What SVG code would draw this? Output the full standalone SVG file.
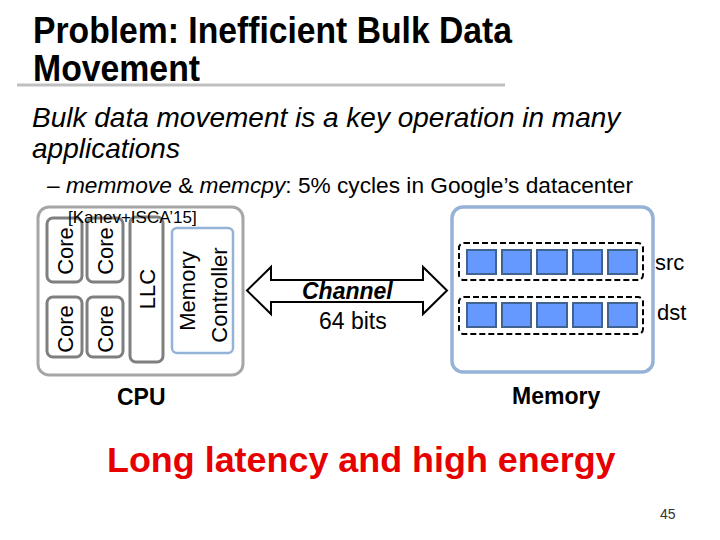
<svg xmlns="http://www.w3.org/2000/svg" width="720" height="540" viewBox="0 0 720 540">
<style>
  text { font-family: "Liberation Sans", Arial, sans-serif; fill: #000; }
  .title { font-size: 36px; font-weight: bold; }
  .body { font-size: 28px; font-style: italic; }
  .sub { font-size: 22.7px; }
  .lbl { font-size: 22px; }
  .blbl { font-size: 23px; font-weight: bold; }
  .core { fill: #fff; stroke: #7f7f7f; stroke-width: 3; }
  .cell { fill: #6699ff; stroke: #41638f; stroke-width: 2; }
  .grp { fill: none; stroke: #000; stroke-width: 2; stroke-dasharray: 6 3; }
</style>
<rect width="720" height="540" fill="#fff"/>

<g id="title">
  <text class="title" x="33" y="43" textLength="479" lengthAdjust="spacingAndGlyphs">Problem: Inefficient Bulk Data</text>
  <text class="title" x="33" y="81" textLength="167" lengthAdjust="spacingAndGlyphs">Movement</text>
  <line x1="17" y1="85" x2="505" y2="85" stroke="#bfbfbf" stroke-width="3"/>
</g>

<g id="bullets">
  <text class="body" x="32" y="127">Bulk data movement is a key operation in many</text>
  <text class="body" x="32" y="158">applications</text>
  <text class="sub" x="47" y="193">– <tspan font-style="italic">memmove</tspan> &amp; <tspan font-style="italic">memcpy</tspan>: 5% cycles in Google’s datacenter</text>
</g>

<g id="cpu">
  <rect x="38" y="207" width="205" height="168" rx="11" fill="#fff" stroke="#a6a6a6" stroke-width="3"/>
  <g id="core1"><rect class="core" x="47" y="218" width="35" height="64" rx="6"/><text class="lbl" text-anchor="middle" transform="translate(65,251) rotate(-90)" y="8">Core</text></g>
  <g id="core2"><rect class="core" x="87" y="218" width="36" height="64" rx="6"/><text class="lbl" text-anchor="middle" transform="translate(105,251) rotate(-90)" y="8">Core</text></g>
  <g id="core3"><rect class="core" x="47" y="297" width="35" height="60" rx="6"/><text class="lbl" text-anchor="middle" transform="translate(65,329) rotate(-90)" y="8">Core</text></g>
  <g id="core4"><rect class="core" x="87" y="297" width="36" height="60" rx="6"/><text class="lbl" text-anchor="middle" transform="translate(105,329) rotate(-90)" y="8">Core</text></g>
  <g id="llc"><rect class="core" x="130" y="217" width="33" height="145" rx="6"/><text class="lbl" text-anchor="middle" transform="translate(147,289) rotate(-90)" y="8">LLC</text></g>
  <g id="memctrl">
    <rect x="172" y="228" width="61" height="125" rx="5" fill="#fff" stroke="#95b3d7" stroke-width="2.5"/>
    <text class="lbl" text-anchor="middle" transform="translate(187,291) rotate(-90)" y="8">Memory</text>
    <text class="lbl" text-anchor="middle" transform="translate(219,295) rotate(-90)" y="8">Controller</text>
  </g>
  <text x="68" y="223" font-size="17">[Kanev+ISCA’15]</text>
  <text class="blbl" x="117" y="405">CPU</text>
</g>

<g id="connectors">
  <polygon points="247,290.5 271,267 271,280 423,280 423,267 447,290.5 423,314 423,302 271,302 271,314" fill="#fff" stroke="#000" stroke-width="2" stroke-linejoin="miter"/>
  <text x="302" y="299" font-size="23" font-weight="bold" font-style="italic">Channel</text>
  <text x="319" y="329" font-size="23">64 bits</text>
</g>

<g id="memory">
  <rect x="452" y="207" width="201" height="165" rx="11" fill="#fff" stroke="#95b3d7" stroke-width="3.5"/>
  <g id="src">
    <rect class="grp" x="459" y="243" width="184" height="37" rx="5"/>
    <rect class="cell" x="467" y="250" width="29" height="24"/>
    <rect class="cell" x="502" y="250" width="29" height="24"/>
    <rect class="cell" x="537" y="250" width="30" height="24"/>
    <rect class="cell" x="573" y="250" width="29" height="24"/>
    <rect class="cell" x="608" y="250" width="29" height="24"/>
    <text class="lbl" x="655" y="270">src</text>
  </g>
  <g id="dst">
    <rect class="grp" x="459" y="297" width="184" height="37" rx="5"/>
    <rect class="cell" x="467" y="303" width="29" height="24"/>
    <rect class="cell" x="502" y="303" width="29" height="24"/>
    <rect class="cell" x="537" y="303" width="30" height="24"/>
    <rect class="cell" x="573" y="303" width="29" height="24"/>
    <rect class="cell" x="608" y="303" width="29" height="24"/>
    <text class="lbl" x="657" y="320">dst</text>
  </g>
  <text class="blbl" x="512" y="404">Memory</text>
</g>

<g id="conclusion">
  <text x="107" y="472" font-size="35.9" font-weight="bold" style="fill:#e60000">Long latency and high energy</text>
</g>
<text x="660" y="519" font-size="14" style="fill:#333">45</text>
</svg>
